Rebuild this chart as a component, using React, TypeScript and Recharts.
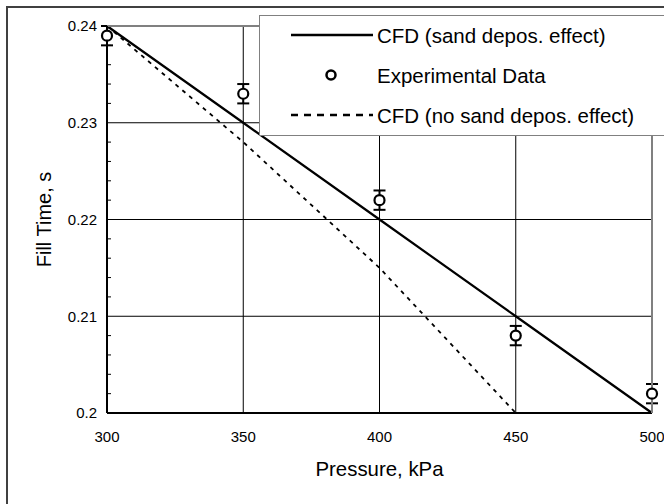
import React from 'react';
import { ComposedChart, Line, Scatter, ErrorBar, XAxis, YAxis, CartesianGrid, Legend, Label } from 'recharts';

// values
const PRESSURE = [300, 350, 400, 450, 500];
const CFD_SAND = [0.24, 0.23, 0.22, 0.21, 0.2];
const EXPERIMENTAL = [0.239, 0.233, 0.222, 0.208, 0.202];
const EXP_ERROR = [0.001, 0.001, 0.001, 0.001, 0.001];
const CFD_NO_SAND = [0.24, 0.228, 0.215, 0.2, null];

const X_TICKS = [300, 350, 400, 450, 500];
const Y_TICKS = [0.2, 0.21, 0.22, 0.23, 0.24];
const X_MINOR = [310, 320, 330, 340, 360, 370, 380, 390, 410, 420, 430, 440, 460, 470, 480, 490];
const Y_MINOR = [0.202, 0.204, 0.206, 0.208, 0.212, 0.214, 0.216, 0.218, 0.222, 0.224, 0.226, 0.228, 0.232, 0.234, 0.236, 0.238];

const SERIES_NAMES = {
    sand: 'CFD (sand depos. effect)',
    exp: 'Experimental Data',
    nosand: 'CFD (no sand depos. effect)',
};
const LEGEND_ORDER = ['sand', 'exp', 'nosand'];

const FONT = 'Arial, "Liberation Sans", sans-serif';

const data = PRESSURE.map((p, i) => ({
    p,
    sand: CFD_SAND[i],
    exp: EXPERIMENTAL[i],
    err: EXP_ERROR[i],
    nosand: CFD_NO_SAND[i],
}));

const noLabel = () => '';

// eslint-disable-next-line @typescript-eslint/no-explicit-any
const LegendBox = ({ payload }: any) => {
    const items = [...(payload ?? [])].sort(
        (a, b) => LEGEND_ORDER.indexOf(a.dataKey) - LEGEND_ORDER.indexOf(b.dataKey)
    );
    return (
        <div style={{ width: 420, height: 121, background: '#fff', border: '1px solid #808080', boxSizing: 'border-box' }}>
            <svg width={420} height={119} style={{ display: 'block' }}>
                {items.map((item, i) => {
                    const y = 19 + i * 40;
                    let icon = null;
                    if (item.dataKey === 'exp') {
                        icon = <circle cx={71} cy={y} r={4.5} fill="#fff" stroke="#000" strokeWidth={2.5} />;
                    } else if (item.dataKey === 'nosand') {
                        icon = <line x1={31} y1={y} x2={113} y2={y} stroke="#000" strokeWidth={2.5} strokeDasharray="7 6" />;
                    } else {
                        icon = <line x1={31} y1={y} x2={113} y2={y} stroke="#000" strokeWidth={2.5} />;
                    }
                    return (
                        <g key={item.dataKey}>
                            {icon}
                            <text x={117} y={y} dominantBaseline="central" fontSize={20.5} fill="#000" fontFamily={FONT}>
                                {item.value}
                            </text>
                        </g>
                    );
                })}
            </svg>
        </div>
    );
};

// eslint-disable-next-line @typescript-eslint/no-explicit-any
const ExpMarker = (props: any) => {
    const { cx, cy } = props;
    return <circle cx={cx} cy={cy} r={5} fill="#fff" stroke="#000" strokeWidth={2.2} />;
};

export default function App() {
    return (
        <div style={{ position: 'absolute', left: 0, top: 0, width: 664, height: 504, overflow: 'hidden', background: '#fff' }}>
            <div style={{ position: 'absolute', left: 6, top: 6, width: 700, height: 540, border: '2px solid #404040' }} />
            <div style={{ position: 'absolute', left: 0, top: 0 }}>
                <ComposedChart
                    width={664}
                    height={504}
                    data={data}
                    margin={{ top: 26, right: 12, bottom: 90, left: 106 }}
                    style={{ fontFamily: FONT }}
                >
                    <CartesianGrid stroke="#000" strokeWidth={1} />
                    <XAxis
                        dataKey="p"
                        type="number"
                        domain={[300, 500]}
                        ticks={X_TICKS}
                        interval={0}
                        height={1}
                        tickLine={false}
                        tickSize={6}
                        tickMargin={12}
                        tick={{ fontSize: 15, fill: '#000' }}
                        axisLine={{ stroke: '#000', strokeWidth: 2 }}
                    >
                        <Label
                            content={() => (
                                <text x={379.5} y={476} textAnchor="middle" fontSize={20.4} fill="#000" fontFamily={FONT}>
                                    Pressure, kPa
                                </text>
                            )}
                        />
                    </XAxis>
                    <XAxis
                        xAxisId="minor"
                        type="number"
                        domain={[300, 500]}
                        ticks={X_MINOR}
                        interval={0}
                        allowDataOverflow
                        mirror
                        height={1}
                        tickFormatter={noLabel}
                        axisLine={false}
                        tickSize={4}
                        tickLine={{ stroke: '#000', strokeWidth: 1 }}
                    />
                    <XAxis
                        xAxisId="top"
                        orientation="top"
                        type="number"
                        domain={[300, 500]}
                        allowDataOverflow
                        mirror
                        height={1}
                        tick={false}
                        tickLine={false}
                        axisLine={{ stroke: '#808080', strokeWidth: 2 }}
                    />
                    <YAxis
                        type="number"
                        domain={[0.2, 0.24]}
                        ticks={Y_TICKS}
                        interval={0}
                        width={1}
                        tickLine={false}
                        tickSize={4}
                        tickMargin={6}
                        tick={{ fontSize: 15, fill: '#000' }}
                        axisLine={{ stroke: '#000', strokeWidth: 2 }}
                    >
                        <Label
                            content={() => (
                                <text
                                    x={50.5}
                                    y={219.5}
                                    transform="rotate(-90, 50.5, 219.5)"
                                    textAnchor="middle"
                                    fontSize={20}
                                    fill="#000"
                                    fontFamily={FONT}
                                >
                                    Fill Time, s
                                </text>
                            )}
                        />
                    </YAxis>
                    <YAxis
                        yAxisId="minor"
                        type="number"
                        domain={[0.2, 0.24]}
                        ticks={Y_MINOR}
                        interval={0}
                        allowDataOverflow
                        mirror
                        width={1}
                        tickFormatter={noLabel}
                        axisLine={false}
                        tickSize={4}
                        tickLine={{ stroke: '#000', strokeWidth: 1 }}
                    />
                    <YAxis
                        yAxisId="right"
                        orientation="right"
                        type="number"
                        domain={[0.2, 0.24]}
                        allowDataOverflow
                        mirror
                        width={1}
                        tick={false}
                        tickLine={false}
                        axisLine={{ stroke: '#808080', strokeWidth: 2 }}
                    />
                    <Line
                        dataKey="sand"
                        name={SERIES_NAMES.sand}
                        stroke="#000"
                        strokeWidth={2.2}
                        dot={false}
                        isAnimationActive={false}
                    />
                    <Scatter
                        dataKey="exp"
                        name={SERIES_NAMES.exp}
                        fill="#000"
                        shape={ExpMarker}
                        isAnimationActive={false}
                    >
                        <ErrorBar dataKey="err" direction="y" width={6} stroke="#000" strokeWidth={2} />
                    </Scatter>
                    <Line
                        dataKey="nosand"
                        name={SERIES_NAMES.nosand}
                        stroke="#000"
                        strokeWidth={1.8}
                        strokeDasharray="4 5"
                        dot={false}
                        isAnimationActive={false}
                    />
                    <Legend
                        layout="horizontal"
                        align="center"
                        verticalAlign="middle"
                        content={<LegendBox />}
                        wrapperStyle={{ left: 259, top: 15, width: 420, height: 121 }}
                    />
                </ComposedChart>
            </div>
        </div>
    );
}
